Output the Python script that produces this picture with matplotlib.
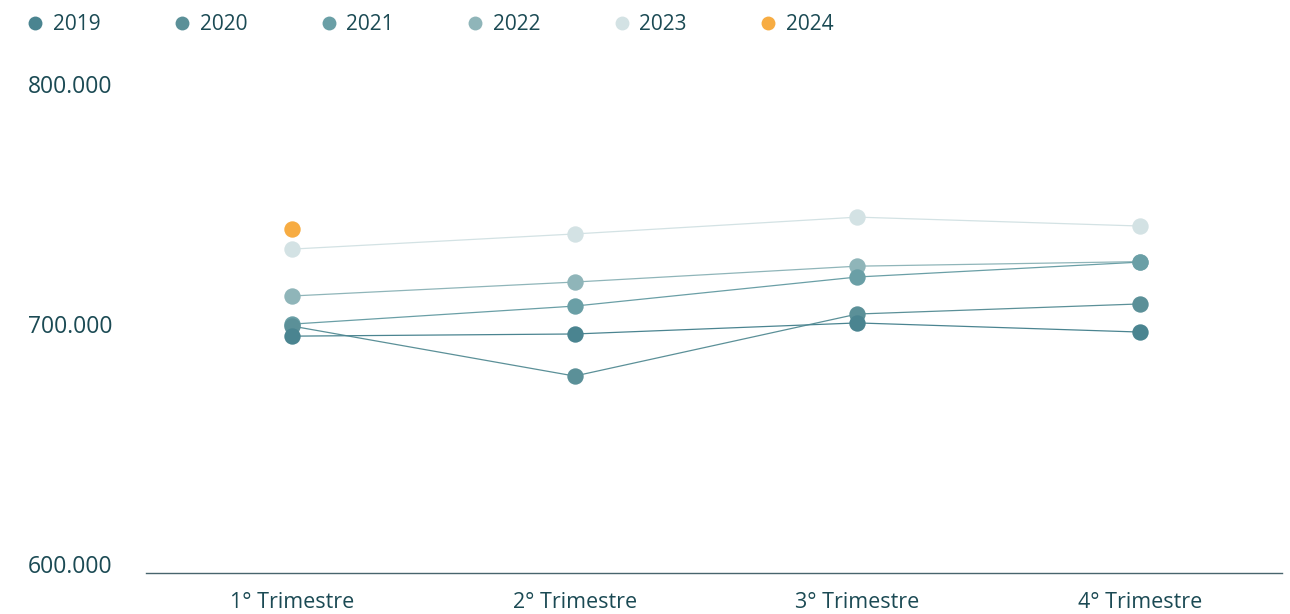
import matplotlib
matplotlib.use('Agg')
import matplotlib.pyplot as plt
from matplotlib.lines import Line2D
import matplotlib.transforms as mtransforms

plt.rcParams['font.family'] = ['Open Sans', 'DejaVu Sans']

# Data (thousands)
quarters = ['1° Trimestre', '2° Trimestre', '3° Trimestre', '4° Trimestre']
years = ['2019', '2020', '2021', '2022', '2023', '2024']
v2019 = [698.5, 699.4, 704.0, 700.2]
v2020 = [702.7, 681.9, 707.7, 711.9]
v2021 = [703.5, 711.0, 723.1, 729.3]
v2022 = [715.2, 721.0, 727.6, 729.5]
v2023 = [734.7, 741.0, 748.0, 744.3]
v2024 = [743.0]
series = [v2019, v2020, v2021, v2022, v2023, v2024]
y_ticks = [600, 700, 800]
y_tick_labels = ['600.000', '700.000', '800.000']

colors = ['#4a8490', '#5b9098', '#6a9fa6', '#8fb5b9', '#d3e2e4', '#f7ac42']
text_color = '#1b4a54'

fig = plt.figure(figsize=(12.9, 6.14), dpi=100)
ax = fig.add_axes([146 / 1290, 0.0668, 1136 / 1290, 0.7832])

# earlier years drawn on top
for i, (yr, vals) in enumerate(zip(years, series)):
    x = list(range(len(vals)))
    ax.plot(x, vals, color=colors[i], lw=0.9, marker='o', markersize=11.8,
            markeredgewidth=0, zorder=10 - i, solid_capstyle='round')

ax.set_xlim(-0.516, 3.502)
ax.set_ylim(600, 800)
ax.set_xticks(range(len(quarters)))
ax.set_xticklabels(quarters, fontsize=15.5, color=text_color)
ax.tick_params(axis='x', length=0, pad=13.5)
ax.set_yticks([])
for s in ['top', 'right', 'left']:
    ax.spines[s].set_visible(False)
ax.spines['bottom'].set_color('#48656d')
ax.spines['bottom'].set_linewidth(1.0)

# y labels sit just above their gridline level, left aligned
trans = mtransforms.blended_transform_factory(fig.transFigure, ax.transData)
offset = mtransforms.ScaledTranslation(0, 4 / 72, fig.dpi_scale_trans)
for v, lab in zip(y_ticks, y_tick_labels):
    ax.text(28 / 1290, v, lab, transform=trans + offset, ha='left', va='center',
            fontsize=16.5, color=text_color, clip_on=False)

handles = [Line2D([], [], ls='none', marker='o', markersize=10, markeredgewidth=0,
                  color=c) for c in colors]
fig.legend(handles, years, loc='upper left', bbox_to_anchor=(0.0065, 1.008), ncol=6,
           frameon=False, fontsize=15, handlelength=0.8, handletextpad=0.45,
           columnspacing=3.5, labelcolor=text_color)

fig.savefig('out.png', dpi=100)
